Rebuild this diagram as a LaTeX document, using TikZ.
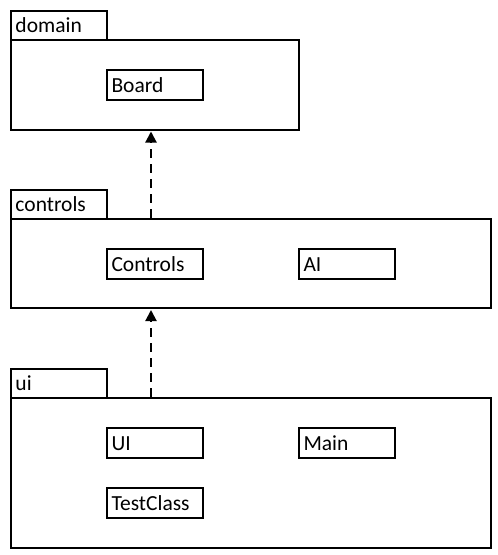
\documentclass[tikz,border=0pt]{standalone}
\usepackage{fontspec}
\setmainfont{Carlito}
\usetikzlibrary{arrows.meta, positioning}

\begin{document}
\begin{tikzpicture}[
  x=1pt, y=-1pt,
  every node/.style={font=\fontsize{21.5}{24}\selectfont},
  frame/.style={draw=black, line width=2pt, anchor=north west, inner sep=0pt},
  tab/.style={frame, minimum width=96pt, minimum height=29pt, text width=87pt, align=left, inner xsep=4.5pt, text height=15pt, text depth=0pt},
  body/.style={frame},
  cls/.style={frame, minimum width=96pt, minimum height=29.5pt, text width=87pt, align=left, inner xsep=4.5pt, text height=14.5pt, text depth=0pt},
  dep/.style={-{Triangle[length=11pt, width=11pt]}, line width=2pt, dash pattern=on 9pt off 6pt, shorten >=1pt}
]
\useasboundingbox (0,0) rectangle (498,555);

% === domain package ===
\node[body, minimum width=288pt, minimum height=90pt] (dombody) at (10,38.5) {};
\node[tab] (domtab) at (10,9.5) {domain};
\node[cls] (board) at (106,69) {Board};

% === controls package ===
\node[body, minimum width=480pt, minimum height=89.5pt] (ctrlbody) at (10,217.5) {};
\node[tab] (ctrltab) at (10,188.5) {controls};
\node[cls] (controls) at (106,248) {Controls};
\node[cls] (ai) at (298,248) {AI};

% === ui package ===
\node[body, minimum width=480pt, minimum height=150pt] (uibody) at (10,396.5) {};
\node[tab] (uitab) at (10,367.5) {ui};
\node[cls] (uicls) at (106,427) {UI};
\node[cls] (main) at (298,427) {Main};
\node[cls] (test) at (106,487) {TestClass};

% Dependencies
\coordinate (lane) at (151,0);
\draw[dep] (ctrlbody.north -| lane) -- (dombody.south -| lane);
\draw[dep] (uibody.north -| lane) -- (ctrlbody.south -| lane);

\end{tikzpicture}
\end{document}
